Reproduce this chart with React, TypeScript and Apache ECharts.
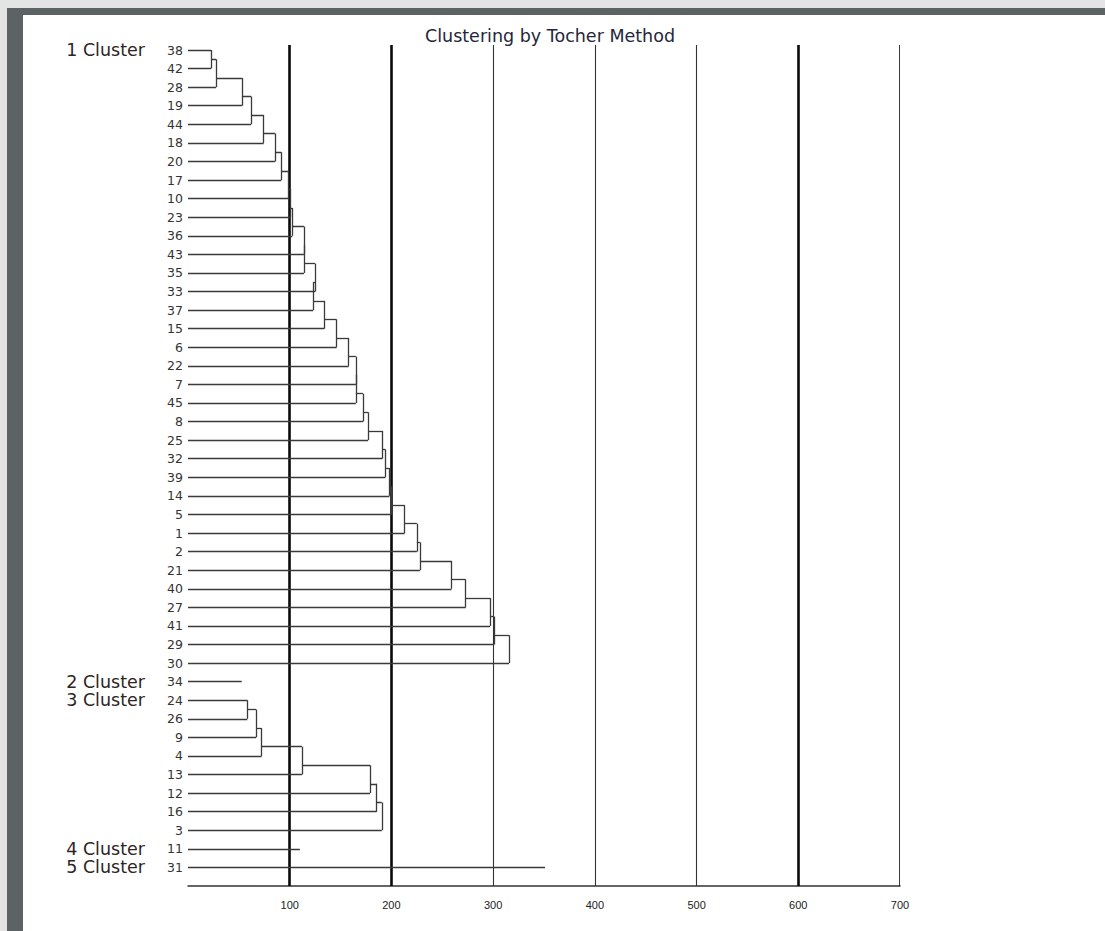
import React, { useEffect, useRef } from "react";
import * as echarts from "echarts";

// Leaf order (top to bottom) as drawn in the dendrogram
const leafLabels = [
  "38", "42", "28", "19", "44", "18", "20", "17", "10", "23", "36", "43", "35", "33", "37", "15", "6",
  "22", "7", "45", "8", "25", "32", "39", "14", "5", "1", "2", "21", "40", "27", "41", "29", "30",
  "34",
  "24", "26", "9", "4", "13", "12", "16", "3",
  "11",
  "31",
];

// Height (distance) at which each leaf joins its cluster's chain (null = first leaf of a multi-member cluster)
const joinHeights: (number | null)[] = [
  null, 22.6, 27.5, 53, 62, 74.4, 85.5, 91.7, 98.6, 101, 102.5, 114, 114, 125, 123, 134, 146,
  158, 165, 165, 172, 177, 191, 194, 198, 200, 213, 225, 228, 259, 273, 297, 301, 315.6,
  52.8,
  null, 58.3, 66.9, 72.4, 112, 179, 185.5, 190.5,
  110,
  351,
];

const clusterNames = ["1 Cluster", "2 Cluster", "3 Cluster", "4 Cluster", "5 Cluster"];
const clusterSizes = [34, 1, 8, 1, 1];

const xTicks = [100, 200, 300, 400, 500, 600, 700];
const gridLineBold = [true, true, false, false, false, true, true];

export default function App() {
  const ref = useRef<HTMLDivElement>(null);

  useEffect(() => {
    if (!ref.current) return;
    const chart = echarts.init(ref.current, undefined, { renderer: "svg" });

    // build dendrogram segments in data space
    const segs: number[][][] = [];
    const clusterStarts: number[] = [];
    let start = 0;
    clusterSizes.forEach((n) => {
      clusterStarts.push(start);
      if (n === 1) {
        segs.push([[0, start], [joinHeights[start] as number, start]]);
      } else {
        for (let i = 0; i < n; i++) {
          const row = start + i;
          if (i === 0) {
            segs.push([[0, row], [joinHeights[row + 1] as number, row]]);
          } else if (i === 1) {
            const h = joinHeights[row] as number;
            segs.push([[0, row], [h, row]]);
            segs.push([[h, row - 1], [h, row]]);
          } else {
            const h = joinHeights[row] as number;
            const hp = joinHeights[row - 1] as number;
            segs.push([[0, row], [h, row]]);
            segs.push([[h, row - 1.5], [h, row]]);
            segs.push([[hp, row - 1.5], [h, row - 1.5]]);
          }
        }
      }
      start += n;
    });

    const yMin = -0.27;
    const yMax = leafLabels.length;

    const gridSegs = xTicks.map((v, i) => ({
      coords: [[v, yMin], [v, yMax]],
      lineStyle: {
        color: gridLineBold[i] ? "#0a0a0a" : "#333333",
        width: gridLineBold[i] ? 2.6 : 1.1,
      },
    }));

    const rowValues = leafLabels.map((_, i) => i);

    chart.setOption({
      animation: false,
      backgroundColor: "#ffffff",
      title: {
        text: "Clustering by Tocher Method",
        left: 545,
        textAlign: "center",
        top: 22,
        textStyle: {
          fontFamily: "DejaVu Sans",
          fontSize: 17.5,
          fontWeight: "normal",
          color: "#26263a",
        },
      },
      graphic: [
        { type: "rect", shape: { x: 0, y: 0, width: 1105, height: 8 }, style: { fill: "#e4e4e4" }, silent: true },
        { type: "rect", shape: { x: 0, y: 0, width: 7, height: 931 }, style: { fill: "#e4e4e4" }, silent: true },
        { type: "rect", shape: { x: 7, y: 8, width: 1098, height: 7 }, style: { fill: "#5d6365" }, silent: true },
        { type: "rect", shape: { x: 7, y: 8, width: 16, height: 923 }, style: { fill: "#5d6365" }, silent: true },
      ],
      grid: { left: 188, right: 205, top: 45, bottom: 45, containLabel: false },
      xAxis: {
        type: "value",
        min: 0,
        max: 700,
        interval: 100,
        axisLine: { show: true, onZero: false, lineStyle: { color: "#333", width: 1.5 } },
        axisTick: { show: false },
        splitLine: { show: false },
        axisLabel: {
          margin: 13,
          fontFamily: "Liberation Sans",
          fontSize: 11,
          color: "#222",
          formatter: (v: number) => (v === 0 ? "" : String(v)),
        },
      },
      yAxis: [
        {
          type: "value",
          inverse: true,
          min: yMin,
          max: yMax,
          axisLine: { show: false },
          axisTick: { show: false },
          splitLine: { show: false },
          axisLabel: {
            customValues: rowValues,
            margin: 5,
            fontFamily: "DejaVu Sans",
            fontSize: 12.5,
            color: "#333",
            formatter: (v: number) => leafLabels[Math.round(v)] ?? "",
          },
        },
        {
          type: "value",
          inverse: true,
          min: yMin,
          max: yMax,
          position: "left",
          offset: 35,
          axisLine: { show: false },
          axisTick: { show: false },
          splitLine: { show: false },
          axisLabel: {
            customValues: clusterStarts,
            margin: 8,
            fontFamily: "DejaVu Sans",
            fontSize: 17.5,
            lineHeight: 18,
            color: "#2e2424",
            formatter: (v: number) => {
              const idx = clusterStarts.indexOf(Math.round(v));
              return idx >= 0 ? clusterNames[idx] : "";
            },
          },
        },
      ],
      series: [
        {
          type: "lines",
          coordinateSystem: "cartesian2d",
          xAxisIndex: 0,
          yAxisIndex: 0,
          silent: true,
          polyline: false,
          data: gridSegs,
          lineStyle: { opacity: 1 },
          z: 2,
        },
        {
          type: "lines",
          coordinateSystem: "cartesian2d",
          xAxisIndex: 0,
          yAxisIndex: 0,
          silent: true,
          data: segs.map((s) => ({ coords: s })),
          lineStyle: { color: "#3a3a3a", width: 1.3, opacity: 1 },
          z: 3,
        },
      ],
    });

    return () => chart.dispose();
  }, []);

  return (
    <div
      ref={ref}
      style={{ position: "fixed", left: 0, top: 0, width: 1105, height: 931 }}
    />
  );
}
